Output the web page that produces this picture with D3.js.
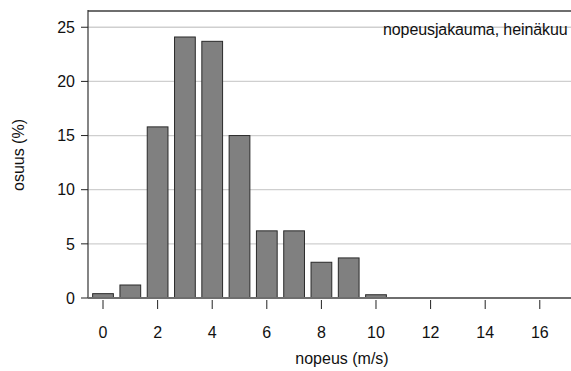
<!DOCTYPE html>
<html>
<head>
<meta charset="utf-8">
<script src="https://cdn.jsdelivr.net/npm/d3@7"></script>
<style>
  body { margin: 0; background: #fff; }
  text { font-family: "Liberation Sans", Arial, sans-serif; fill: #111; }
</style>
</head>
<body>
<script>
// wind speed class (m/s) and share of hours (%)
const speeds = [0, 1, 2, 3, 4, 5, 6, 7, 8, 9, 10];
const shares = [0.4, 1.2, 15.8, 24.1, 23.7, 15.0, 6.2, 6.2, 3.3, 3.7, 0.3];
const xTicks = [0, 2, 4, 6, 8, 10, 12, 14, 16];
const yTicks = [0, 5, 10, 15, 20, 25];

const title = "nopeusjakauma, heinäkuu";
const xTitle = "nopeus (m/s)";
const yTitle = "osuus (%)";

const W = 571, H = 371;
const pLeft = 88, pRight = 572, pTop = 11, pBottom = 298;

const svg = d3.select('body')
    .append('svg')
    .attr('width', W)
    .attr('height', H)

const x = d3.scaleLinear().domain([-0.55, 17.18]).range([pLeft, pRight])
const y = d3.scaleLinear().domain([0, 26.5]).range([pBottom, pTop])

// grid
svg.selectAll('.grid')
    .data(yTicks.filter(d => d > 0))
    .join('line')
    .attr('x1', pLeft).attr('x2', pRight)
    .attr('y1', d => y(d)).attr('y2', d => y(d))
    .attr('stroke', '#cfcfcf')
    .attr('stroke-width', 1.3)

// bars
const bw = 0.76
svg.selectAll('rect.bar')
    .data(speeds.map((s, i) => ({ s, v: shares[i] })))
    .join('rect')
    .attr('class', 'bar')
    .attr('x', d => x(d.s - bw / 2))
    .attr('width', d => x(bw) - x(0))
    .attr('y', d => y(d.v))
    .attr('height', d => y(0) - y(d.v))
    .attr('fill', '#808080')
    .attr('stroke', '#2a2a2a')
    .attr('stroke-width', 1)

// frame
svg.append('line').attr('x1', pLeft).attr('x2', pRight).attr('y1', pTop).attr('y2', pTop)
    .attr('stroke', '#6e6e6e').attr('stroke-width', 2)
svg.append('line').attr('x1', pLeft).attr('x2', pLeft).attr('y1', pTop - 1).attr('y2', pBottom)
    .attr('stroke', '#333').attr('stroke-width', 1.2)
svg.append('line').attr('x1', pLeft).attr('x2', pRight).attr('y1', pBottom).attr('y2', pBottom)
    .attr('stroke', '#6e6e6e').attr('stroke-width', 2)

// y axis
const yAxis = svg.append('g')
yAxis.selectAll('line')
    .data(yTicks)
    .join('line')
    .attr('x1', pLeft - 7).attr('x2', pLeft)
    .attr('y1', d => y(d)).attr('y2', d => y(d))
    .attr('stroke', '#222')
yAxis.selectAll('text')
    .data(yTicks)
    .join('text')
    .attr('x', 75)
    .attr('y', d => y(d))
    .attr('dy', '0.36em')
    .attr('text-anchor', 'end')
    .attr('font-size', 16)
    .text(d => d)

// x axis
const xAxis = svg.append('g')
xAxis.selectAll('line')
    .data(xTicks)
    .join('line')
    .attr('x1', d => x(d)).attr('x2', d => x(d))
    .attr('y1', pBottom + 2).attr('y2', pBottom + 11)
    .attr('stroke', '#222')
xAxis.selectAll('text')
    .data(xTicks)
    .join('text')
    .attr('x', d => x(d))
    .attr('y', 337.5)
    .attr('text-anchor', 'middle')
    .attr('font-size', 16)
    .text(d => d)

// titles
svg.append('text')
    .attr('x', 567.5).attr('y', 34.5)
    .attr('text-anchor', 'end')
    .attr('font-size', 16)
    .attr('letter-spacing', -0.1)
    .text(title)

svg.append('text')
    .attr('x', 342).attr('y', 364)
    .attr('text-anchor', 'middle')
    .attr('font-size', 16)
    .text(xTitle)

svg.append('text')
    .attr('transform', 'translate(24,155) rotate(-90)')
    .attr('text-anchor', 'middle')
    .attr('font-size', 16)
    .text(yTitle)
</script>
</body>
</html>
